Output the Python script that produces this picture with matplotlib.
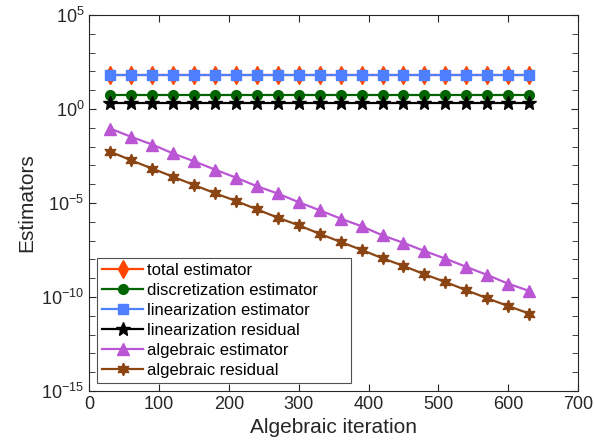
import matplotlib
matplotlib.use("Agg")
import matplotlib.pyplot as plt
from matplotlib.ticker import LogLocator, LogFormatterSciNotation, NullFormatter, FixedLocator

plt.rcParams['font.family'] = ['Liberation Sans', 'DejaVu Sans']
plt.rcParams['mathtext.fontset'] = 'custom'
plt.rcParams['mathtext.rm'] = 'Liberation Sans'

iterations = [30, 60, 90, 120, 150, 180, 210, 240, 270, 300, 330,
              360, 390, 420, 450, 480, 510, 540, 570, 600, 630]

total_est = [66, 66, 66, 66, 66, 66, 66, 66, 66, 66, 66,
             66, 66, 66, 66, 66, 66, 66, 66, 66, 66]
disc_est = [5.4, 5.4, 5.4, 5.4, 5.4, 5.4, 5.4, 5.4, 5.4, 5.4, 5.4,
            5.4, 5.4, 5.4, 5.4, 5.4, 5.4, 5.4, 5.4, 5.4, 5.4]
lin_est = [64, 64, 64, 64, 64, 64, 64, 64, 64, 64, 64,
           64, 64, 64, 64, 64, 64, 64, 64, 64, 64]
lin_res = [2.0, 2.0, 2.0, 2.0, 2.0, 2.0, 2.0, 2.0, 2.0, 2.0, 2.0,
           2.0, 2.0, 2.0, 2.0, 2.0, 2.0, 2.0, 2.0, 2.0, 2.0]
alg_est = [9.1e-2, 3.3e-2, 1.29e-2, 4.3e-3, 1.66e-3, 6.0e-4, 2.24e-4, 7.8e-5,
           3.2e-5, 1.1e-5, 4.1e-6, 1.48e-6, 5.8e-7, 1.9e-7, 7.6e-8, 2.8e-8,
           1.1e-8, 4.0e-9, 1.48e-9, 5.1e-10, 2.1e-10]
alg_res = [5.4e-3, 1.86e-3, 6.8e-4, 2.5e-4, 9.1e-5, 3.3e-5, 1.29e-5, 4.6e-6,
           1.66e-6, 6.5e-7, 2.3e-7, 8.5e-8, 3.2e-8, 1.15e-8, 4.5e-9, 1.62e-9,
           6.3e-10, 2.3e-10, 8.5e-11, 3.3e-11, 1.32e-11]

fig = plt.figure(figsize=(5.94, 4.46), dpi=100)
ax = fig.add_axes([0.1503, 0.1233, 0.8228, 0.8431])

lw = 1.6
ax.plot(iterations, total_est, '-d', color='#FF4500', lw=lw, ms=9, label='total estimator')
ax.plot(iterations, disc_est, '-o', color='#006400', lw=lw, ms=7, label='discretization estimator')
ax.plot(iterations, lin_est, '-s', color='#4D7FFF', lw=lw, ms=6.5, label='linearization estimator')
ax.plot(iterations, lin_res, '-*', color='black', lw=lw, ms=10, label='linearization residual')
ax.plot(iterations, alg_est, '-^', color='#BA55D3', lw=lw, ms=8, label='algebraic estimator')
# six-pointed star like matlab's hexagram
ax.plot(iterations, alg_res, '-', marker=(6, 1, 0), color='#8B4513', lw=lw, ms=9,
        label='algebraic residual')

ax.set_yscale('log')
ax.set_ylim(1e-15, 1e5)
ax.set_xlim(0, 700)
ax.set_xticks(range(0, 701, 100))
ax.yaxis.set_major_locator(FixedLocator([1e-15, 1e-10, 1e-5, 1e0, 1e5]))
ax.yaxis.set_major_formatter(LogFormatterSciNotation())
ax.yaxis.set_minor_locator(LogLocator(base=10, subs=(1.0,), numticks=30))
ax.yaxis.set_minor_formatter(NullFormatter())
ax.tick_params(which='both', direction='in', top=True, right=True, labelsize=13,
               color='#262626', labelcolor='#262626')
ax.tick_params(which='major', length=5)
ax.tick_params(which='minor', length=4)
for s in ax.spines.values():
    s.set_color('#262626')
    s.set_linewidth(0.8)

ax.set_xlabel('Algebraic iteration', fontsize=15, color='#262626')
ax.set_ylabel('Estimators', fontsize=15, color='#262626')

leg = ax.legend(loc='lower left', bbox_to_anchor=(0.0164, 0.022, 0.5185, 0.3),
                mode='expand', borderaxespad=0, fontsize=12, frameon=True,
                fancybox=False, edgecolor='#262626', handlelength=2.45,
                labelspacing=0.3, handletextpad=0.25, borderpad=0.3)
leg.get_frame().set_linewidth(0.8)

fig.savefig('out.png', dpi=100)
